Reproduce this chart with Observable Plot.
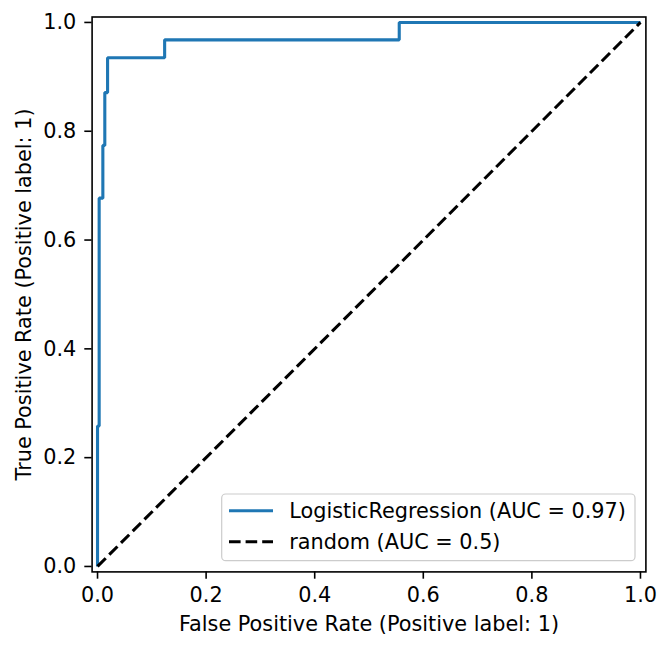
<!DOCTYPE html>
<html>
<head>
<meta charset="utf-8">
<script src="https://cdn.jsdelivr.net/npm/d3@7"></script>
<script src="https://cdn.jsdelivr.net/npm/@observablehq/plot@0.6"></script>
<style>
  html, body { margin: 0; padding: 0; background: #fff; }
  svg { display: block; }
</style>
</head>
<body>
<div id="chart"></div>
<script>
// ROC curve corner points (false positive rate, true positive rate)
const fpr = [0, 0, 0.003, 0.003, 0.0098, 0.0098, 0.0134, 0.0134, 0.0185, 0.0185, 0.1236, 0.1236, 0.5557, 0.5557, 1];
const tpr = [0, 0.258, 0.258, 0.677, 0.677, 0.774, 0.774, 0.871, 0.871, 0.935, 0.935, 0.968, 0.968, 1, 1];

// chance-level reference diagonal
const randomFpr = [0, 1];
const randomTpr = [0, 1];

// legend entries
const seriesNames = ["LogisticRegression", "random"];
const seriesAuc = ["0.97", "0.5"];
const seriesColors = ["#1f77b4", "#000000"];
const seriesDash = [null, "11.6,5"];

const tickValues = [0, 0.2, 0.4, 0.6, 0.8, 1.0];
const xLabel = "False Positive Rate (Positive label: 1)";
const yLabel = "True Positive Rate (Positive label: 1)";

const roc = fpr.map((x, i) => ({x, y: tpr[i]}));
const diag = randomFpr.map((x, i) => ({x, y: randomTpr[i]}));

const W = 671, H = 649;
const FONT = "DejaVu Sans, sans-serif";
const FS = 20.8;

const chart = Plot.plot({
  width: W,
  height: H,
  marginLeft: 91.6,
  marginRight: 25.6,
  marginTop: 16.5,
  marginBottom: 77.6,
  style: {fontFamily: FONT, fontSize: FS + "px", color: "#000", background: "#fff", overflow: "visible"},
  x: {domain: [-0.01, 1.01]},
  y: {domain: [-0.01, 1.01]},
  marks: [
    Plot.line(roc, {x: "x", y: "y", stroke: seriesColors[0], strokeWidth: 3.1, strokeLinejoin: "miter", strokeLinecap: "butt"}),
    Plot.line(diag, {x: "x", y: "y", stroke: seriesColors[1], strokeWidth: 3.1, strokeDasharray: seriesDash[1], strokeLinecap: "butt"}),
    Plot.frame({stroke: "#000", strokeWidth: 1.6}),
    Plot.axisX({ticks: tickValues, tickSize: 7.3, tickPadding: 8, tickFormat: d => d.toFixed(1), label: null, strokeWidth: 1.6, fontSize: FS}),
    Plot.axisY({ticks: tickValues, tickSize: 7.3, tickPadding: 8.5, tickFormat: d => d.toFixed(1), label: null, strokeWidth: 1.6, fontSize: FS}),
    Plot.text([xLabel], {text: d => d, frameAnchor: "bottom", dy: 52, lineAnchor: "middle", textAnchor: "middle", fontSize: FS, fill: "#000"}),
    Plot.text([yLabel], {text: d => d, frameAnchor: "left", rotate: -90, dx: -68, lineAnchor: "middle", textAnchor: "middle", fontSize: FS, fill: "#000"})
  ]
});

document.getElementById("chart").appendChild(chart);

// Legend box in the lower-right corner of the axes
const xr = chart.scale("x").range;
const yr = chart.scale("y").range;
const frameRight = Math.max(...xr), frameBottom = Math.max(...yr);
const boxW = 413.3, boxH = 66.7;
const bx = frameRight - 10.4 - boxW;
const by = frameBottom - 10.7 - boxH;

const svg = d3.select(chart.tagName.toLowerCase() === "svg" ? chart : chart.querySelector("svg"));
const lg = svg.append("g").attr("font-family", FONT).attr("font-size", FS).attr("text-anchor", "start");
lg.append("rect")
  .attr("x", bx).attr("y", by).attr("width", boxW).attr("height", boxH)
  .attr("rx", 4).attr("ry", 4)
  .attr("fill", "#fff").attr("fill-opacity", 0.8)
  .attr("stroke", "#cccccc").attr("stroke-width", 1.2);

seriesNames.forEach((name, i) => {
  const ry = by + 16.7 + i * 31;
  const line = lg.append("line")
    .attr("x1", bx + 7.3).attr("x2", bx + 51.3)
    .attr("y1", ry).attr("y2", ry)
    .attr("stroke", seriesColors[i]).attr("stroke-width", 3.1);
  if (seriesDash[i]) line.attr("stroke-dasharray", seriesDash[i]);
  lg.append("text")
    .attr("x", bx + 67.6).attr("y", ry).attr("dy", "0.35em")
    .attr("text-anchor", "start")
    .attr("fill", "#000")
    .text(`${name} (AUC = ${seriesAuc[i]})`);
});
</script>
</body>
</html>
